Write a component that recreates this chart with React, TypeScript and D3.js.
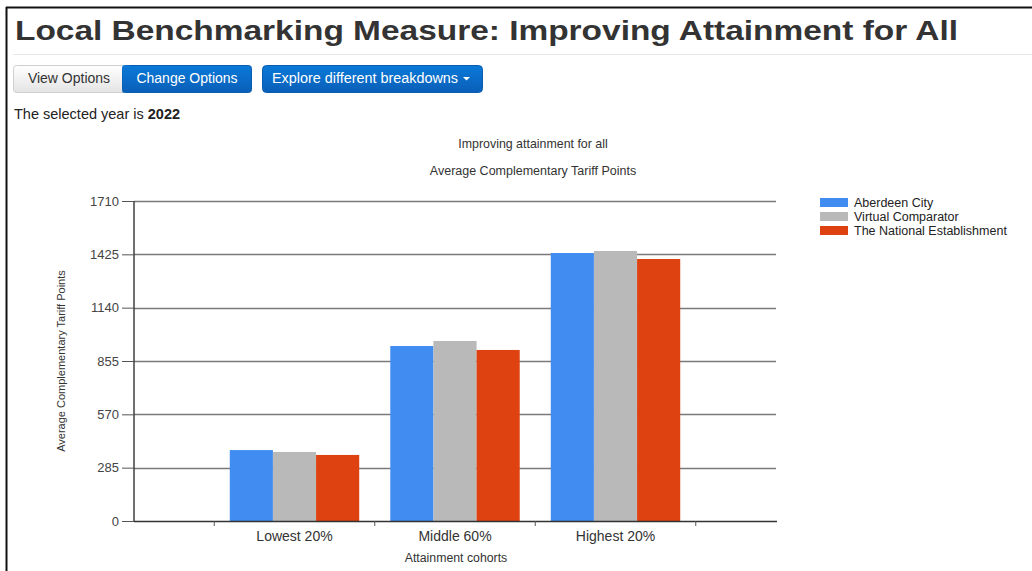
import { useEffect, useRef } from 'react';
import * as d3 from 'd3';

const categories = ['Lowest 20%', 'Middle 60%', 'Highest 20%'];
const seriesNames = ['Aberdeen City', 'Virtual Comparator', 'The National Establishment'];
const aberdeen = [379, 935, 1432];
const comparator = [369, 962, 1443];
const national = [353, 914, 1400];
const yTicks = [0, 285, 570, 855, 1140, 1425, 1710];
const colors = ['#418cf0', '#b9b9b9', '#dd4210'];

const W = 1032;
const H = 571;
const FONT = '"Liberation Sans", Arial, sans-serif';

export default function App() {
  const ref = useRef<SVGSVGElement>(null);

  useEffect(() => {
    if (!ref.current) return;
    const svg = d3.select(ref.current);
    svg.selectAll('*').remove();
    svg.attr('font-family', FONT);

    // page frame
    svg.append('rect').attr('width', W).attr('height', H).attr('fill', '#fff');
    svg.append('line').attr('x1', 6).attr('x2', W).attr('y1', 7.5).attr('y2', 7.5)
      .attr('stroke', '#111').attr('stroke-width', 2);
    svg.append('line').attr('x1', 6.5).attr('x2', 6.5).attr('y1', 7).attr('y2', H)
      .attr('stroke', '#111').attr('stroke-width', 2);

    // header
    svg.append('text').attr('x', 15).attr('y', 40).attr('font-size', 28).attr('font-weight', 'bold')
      .attr('fill', '#333').attr('textLength', 943).attr('lengthAdjust', 'spacingAndGlyphs')
      .text('Local Benchmarking Measure: Improving Attainment for All');
    svg.append('line').attr('x1', 13).attr('x2', W).attr('y1', 54.5).attr('y2', 54.5)
      .attr('stroke', '#e8e8e8');

    const defs = svg.append('defs');
    const g1 = defs.append('linearGradient').attr('id', 'btnGrey').attr('x1', 0).attr('x2', 0).attr('y1', 0).attr('y2', 1);
    g1.append('stop').attr('offset', '0%').attr('stop-color', '#ffffff');
    g1.append('stop').attr('offset', '100%').attr('stop-color', '#e4e4e4');
    const g2 = defs.append('linearGradient').attr('id', 'btnBlue').attr('x1', 0).attr('x2', 0).attr('y1', 0).attr('y2', 1);
    g2.append('stop').attr('offset', '0%').attr('stop-color', '#0a79d8');
    g2.append('stop').attr('offset', '100%').attr('stop-color', '#0a5fb8');

    svg.append('rect').attr('x', 13.5).attr('y', 65.5).attr('width', 112).attr('height', 27).attr('rx', 3)
      .attr('fill', 'url(#btnGrey)').attr('stroke', '#cfcfcf');
    svg.append('rect').attr('x', 122.5).attr('y', 65.5).attr('width', 129).attr('height', 27).attr('rx', 3)
      .attr('fill', 'url(#btnBlue)').attr('stroke', '#0a5cb0');
    svg.append('rect').attr('x', 122.5).attr('y', 65.5).attr('width', 8).attr('height', 27)
      .attr('fill', 'url(#btnBlue)');
    svg.append('text').attr('x', 69).attr('y', 83).attr('text-anchor', 'middle').attr('font-size', 14)
      .attr('fill', '#333').text('View Options');
    svg.append('text').attr('x', 187).attr('y', 83).attr('text-anchor', 'middle').attr('font-size', 14)
      .attr('fill', '#fff').text('Change Options');
    svg.append('rect').attr('x', 262.5).attr('y', 65.5).attr('width', 220).attr('height', 27).attr('rx', 4)
      .attr('fill', 'url(#btnBlue)').attr('stroke', '#0a5cb0');
    svg.append('text').attr('x', 272).attr('y', 83).attr('font-size', 14)
      .attr('fill', '#fff').attr('textLength', 186).attr('lengthAdjust', 'spacingAndGlyphs')
      .text('Explore different breakdowns');
    svg.append('path').attr('d', 'M463,77 l7,0 l-3.5,3.5 z').attr('fill', '#fff');

    const yr = svg.append('text').attr('x', 14).attr('y', 119).attr('font-size', 14.5).attr('fill', '#222');
    yr.append('tspan').text('The selected year is ');
    yr.append('tspan').attr('font-weight', 'bold').text('2022');

    // chart
    const y = d3.scaleLinear().domain([0, 1710]).range([521, 201]);
    const x = d3.scaleBand<string>().domain(categories).range([134, 776]).paddingOuter(0.5).paddingInner(0);
    const xs = d3.scaleBand<string>().domain(seriesNames).range([0, x.bandwidth()]).paddingOuter(0.36).paddingInner(0);
    const data = [aberdeen, comparator, national];

    svg.append('text').attr('x', 533).attr('y', 148).attr('text-anchor', 'middle').attr('font-size', 12.4)
      .attr('fill', '#333').text('Improving attainment for all');
    svg.append('text').attr('x', 533).attr('y', 175).attr('text-anchor', 'middle').attr('font-size', 12.5)
      .attr('fill', '#333').text('Average Complementary Tariff Points');

    // grid
    svg.append('g').selectAll('line').data(yTicks.filter((t) => t > 0)).join('line')
      .attr('x1', 134).attr('x2', 776)
      .attr('y1', (d) => Math.round(y(d)) + 0.5).attr('y2', (d) => Math.round(y(d)) + 0.5)
      .attr('stroke', '#7a7a7a').attr('stroke-width', 1.4);

    // bars
    const groups = svg.append('g').selectAll('g').data(categories).join('g')
      .attr('transform', (d) => `translate(${x(d)},0)`);
    groups.selectAll('rect')
      .data((_, i) => seriesNames.map((s, j) => ({ s, v: data[j][i], j })))
      .join('rect')
      .attr('x', (d) => xs(d.s)!)
      .attr('width', xs.bandwidth())
      .attr('y', (d) => y(d.v))
      .attr('height', (d) => y(0) - y(d.v))
      .attr('fill', (d) => colors[d.j]);

    // y axis
    const ya = svg.append('g').attr('transform', 'translate(134,0)')
      .call(d3.axisLeft(y).tickValues(yTicks).tickSize(12).tickPadding(3).tickFormat(d3.format('d')));
    ya.select('.domain').attr('stroke', '#333').attr('stroke-width', 1.4).attr('d', 'M0,201V521');
    ya.selectAll('.tick line').attr('stroke', '#555');
    ya.selectAll('.tick text').attr('font-family', FONT).attr('font-size', 13).attr('fill', '#444');

    // x axis
    svg.append('line').attr('x1', 134).attr('x2', 777).attr('y1', 521.5).attr('y2', 521.5)
      .attr('stroke', '#333').attr('stroke-width', 1.4);
    const bounds = categories.map((c) => x(c)!).concat([x(categories[categories.length - 1])! + x.bandwidth()]);
    svg.append('g').selectAll('line').data(bounds).join('line')
      .attr('x1', (d) => d).attr('x2', (d) => d).attr('y1', 521).attr('y2', 526)
      .attr('stroke', '#555');
    svg.append('g').selectAll('text').data(categories).join('text')
      .attr('x', (d) => x(d)! + x.bandwidth() / 2).attr('y', 541).attr('text-anchor', 'middle')
      .attr('font-size', 14).attr('fill', '#333').text((d) => d);
    svg.append('text').attr('x', 456).attr('y', 562).attr('text-anchor', 'middle').attr('font-size', 12.3)
      .attr('fill', '#333').text('Attainment cohorts');
    svg.append('text').attr('transform', 'translate(65,361) rotate(-90)').attr('text-anchor', 'middle')
      .attr('font-size', 11).attr('fill', '#333').text('Average Complementary Tariff Points');

    // legend
    const lg = svg.append('g').attr('transform', 'translate(820,198)');
    const items = lg.selectAll('g').data(seriesNames).join('g')
      .attr('transform', (_, i) => `translate(0,${i * 14})`);
    items.append('rect').attr('width', 28).attr('height', 9).attr('fill', (_, i) => colors[i]);
    items.append('text').attr('x', 34).attr('y', 9).attr('font-size', 12.5).attr('fill', '#222')
      .text((d) => d);
  }, []);

  return (
    <svg ref={ref} width={W} height={H}
      style={{ position: 'fixed', left: 0, top: 0, display: 'block' }} />
  );
}
